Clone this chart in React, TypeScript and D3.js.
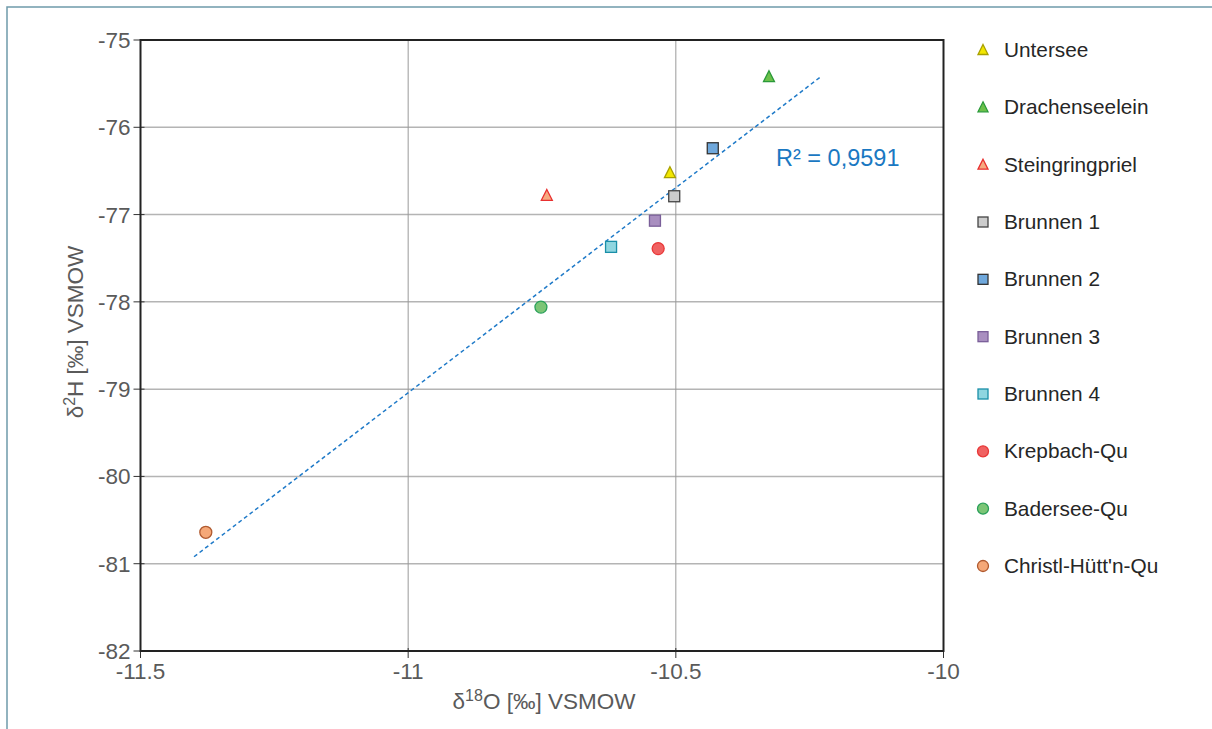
import React from "react";
import * as d3 from "d3";

const seriesNames = ["Untersee", "Drachenseelein", "Steingringpriel", "Brunnen 1", "Brunnen 2", "Brunnen 3", "Brunnen 4", "Krepbach-Qu", "Badersee-Qu", "Christl-Hütt'n-Qu"];
const seriesShapes = ["triangle", "triangle", "triangle", "square", "square", "square", "square", "circle", "circle", "circle"];
const seriesFill = ["#f2e600", "#6cc04a", "#f7a980", "#cccccc", "#6fa8dc", "#a98fc0", "#8fd6e0", "#f06262", "#7cc576", "#f5a878"];
const seriesStroke = ["#a8a000", "#2a9a3a", "#e83030", "#444444", "#333333", "#7a5f99", "#1a8fa8", "#e83838", "#2aa05a", "#b05a30"];
const d18O = [-10.511, -10.326, -10.741, -10.503, -10.431, -10.539, -10.621, -10.533, -10.752, -11.378];
const d2H = [-76.52, -75.42, -76.78, -76.79, -76.24, -77.07, -77.37, -77.39, -78.06, -80.64];

const trendX = [-11.4, -10.227];
const trendY = [-80.92, -75.41];

const xTicks = [-11.5, -11, -10.5, -10];
const xTickLabels = ["-11.5", "-11", "-10.5", "-10"];
const yTicks = [-75, -76, -77, -78, -79, -80, -81, -82];

const W = 1212, H = 729;
const left = 140.5, right = 943.5, top = 40, bottom = 651;
const font = "'Liberation Sans', Arial, sans-serif";

function Marker({ shape, x, y, fill, stroke, s }: any) {
  if (shape === "triangle") {
    const h = s * 0.9;
    const p = `${x},${y - h / 2 - 1} ${x + s / 2},${y + h / 2} ${x - s / 2},${y + h / 2}`;
    return <polygon points={p} fill={fill} stroke={stroke} strokeWidth={1.3} />;
  }
  if (shape === "square") {
    return <rect x={x - s / 2} y={y - s / 2} width={s} height={s} fill={fill} stroke={stroke} strokeWidth={1.3} />;
  }
  return <circle cx={x} cy={y} r={s / 2 + 0.5} fill={fill} stroke={stroke} strokeWidth={1.3} />;
}

export default function App() {
  const x = d3.scaleLinear().domain([-11.5, -10]).range([left, right]);
  const y = d3.scaleLinear().domain([-82, -75]).range([bottom, top]);
  const line = d3.line<number>().x((d, i) => x(trendX[i])).y((d, i) => y(trendY[i]));
  const legendY = d3.scaleLinear().domain([0, 9]).range([50, 566]);

  return (
    <svg width={W} height={H} style={{ position: "absolute", left: 0, top: 0, background: "#fff" }}>
      <rect x={7} y={7} width={W + 20} height={H + 20} fill="#fff" stroke="#6f9aaa" strokeWidth={1.5} />
      {/* grid */}
      {yTicks.slice(1, -1).map((t) => (
        <line key={"gy" + t} x1={left} x2={right} y1={y(t)} y2={y(t)} stroke="#b4b4b4" strokeWidth={1.5} />
      ))}
      {xTicks.slice(1, -1).map((t) => (
        <line key={"gx" + t} x1={x(t)} x2={x(t)} y1={top} y2={bottom} stroke="#9a9a9a" strokeWidth={1} />
      ))}
      {/* ticks */}
      {yTicks.map((t) => (
        <g key={"ty" + t}>
          <line x1={left - 7} x2={left + 4} y1={y(t)} y2={y(t)} stroke="#333" strokeWidth={1} />
          <text x={left - 10} y={y(t) + 8} textAnchor="end" fontFamily={font} fontSize={22.5} fill="#5a5a5a">{t}</text>
        </g>
      ))}
      {xTicks.map((t, i) => (
        <g key={"tx" + t}>
          <line x1={x(t)} x2={x(t)} y1={bottom - 3} y2={bottom + 7} stroke="#333" strokeWidth={1} />
          <text x={x(t)} y={bottom + 28} textAnchor="middle" fontFamily={font} fontSize={22.5} fill="#5a5a5a">{xTickLabels[i]}</text>
        </g>
      ))}
      {/* frame */}
      <rect x={left} y={top} width={right - left} height={bottom - top} fill="none" stroke="#222" strokeWidth={2} />
      {/* trend */}
      <path d={line([0, 1]) || ""} fill="none" stroke="#1f7ac8" strokeWidth={1.5} strokeDasharray="4,3" />
      <text x={776} y={166} fontFamily={font} fontSize={23.5} fill="#1a78c2">R² = 0,9591</text>
      {/* points */}
      {seriesNames.map((n, i) => (
        <Marker key={n} shape={seriesShapes[i]} x={x(d18O[i])} y={y(d2H[i])} fill={seriesFill[i]} stroke={seriesStroke[i]} s={11} />
      ))}
      {/* axis titles */}
      <text x={544} y={709} textAnchor="middle" fontFamily={font} fontSize={22.5} fill="#5a5a5a">
        δ<tspan fontSize={16} dy={-8}>18</tspan><tspan dy={8}>O [‰] VSMOW</tspan>
      </text>
      <text transform={`translate(83,332) rotate(-90)`} textAnchor="middle" fontFamily={font} fontSize={22.5} fill="#5a5a5a">
        δ<tspan fontSize={16} dy={-8}>2</tspan><tspan dy={8}>H [‰] VSMOW</tspan>
      </text>
      {/* legend */}
      {seriesNames.map((n, i) => (
        <g key={"lg" + n}>
          <Marker shape={seriesShapes[i]} x={983} y={legendY(i)} fill={seriesFill[i]} stroke={seriesStroke[i]} s={10} />
          <text x={1004} y={legendY(i) + 7} fontFamily={font} fontSize={20.8} fill="#262626">{n}</text>
        </g>
      ))}
    </svg>
  );
}
